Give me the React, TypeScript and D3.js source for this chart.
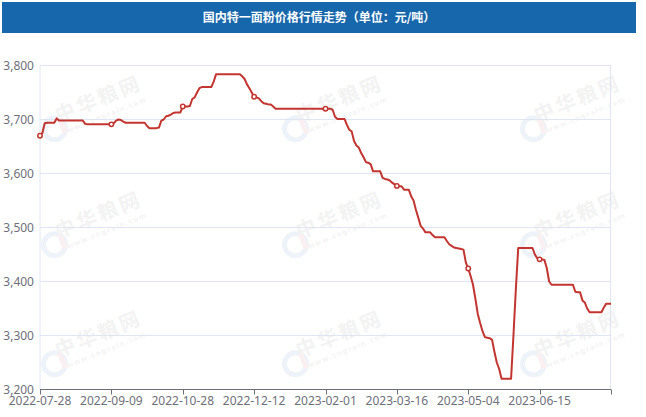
import React from 'react';
import * as d3 from 'd3';

// flour price, one value per category point (yuan / ton)
const prices = [
  3670, 3675, 3693, 3694, 3694, 3694, 3694, 3702, 3698, 3698,
  3698, 3698, 3698, 3698, 3698, 3698, 3698, 3698, 3698, 3692,
  3691, 3691, 3691, 3691, 3691, 3691, 3691, 3691, 3691, 3691,
  3691, 3693, 3698, 3700, 3699, 3696, 3694, 3694, 3694, 3694,
  3694, 3694, 3694, 3694, 3694, 3688, 3684, 3684, 3684, 3684,
  3685, 3698, 3700, 3706, 3707, 3709, 3712, 3713, 3713, 3713,
  3724, 3724, 3724, 3725, 3738, 3741, 3750, 3758, 3760, 3760,
  3760, 3760, 3760, 3770, 3784, 3784, 3784, 3784, 3784, 3784,
  3784, 3784, 3784, 3784, 3784, 3780, 3775, 3765, 3758, 3750,
  3742, 3741, 3739, 3734, 3730, 3729, 3728, 3728, 3724, 3720,
  3720, 3720, 3720, 3720, 3720, 3720, 3720, 3720, 3720, 3720,
  3720, 3720, 3720, 3720, 3720, 3720, 3720, 3720, 3720, 3720,
  3720, 3720, 3720, 3718, 3705, 3701, 3701, 3701, 3701, 3690,
  3681, 3678, 3660, 3652, 3648, 3638, 3630, 3621, 3620, 3617,
  3604, 3604, 3604, 3604, 3592, 3590, 3589, 3587, 3583, 3580,
  3577, 3577, 3576, 3570, 3570, 3570, 3558, 3550, 3533, 3518,
  3503, 3498, 3491, 3491, 3491, 3486, 3482, 3482, 3482, 3482,
  3482, 3475, 3469, 3466, 3463, 3462, 3461, 3460, 3459, 3435,
  3424, 3410, 3394, 3368, 3340, 3323, 3308, 3297, 3296, 3295,
  3292, 3270, 3250, 3238, 3220, 3220, 3220, 3220, 3220, 3300,
  3385, 3462, 3462, 3462, 3462, 3462, 3462, 3462, 3450, 3443,
  3441, 3441, 3440, 3425, 3400, 3394, 3394, 3394, 3394, 3394,
  3394, 3394, 3394, 3394, 3394, 3381, 3380, 3380, 3365, 3361,
  3350, 3343, 3343, 3343, 3343, 3343, 3343, 3352, 3359, 3359,
  3359,
];

const dateLabels = [
  '2022-07-28', '2022-09-09', '2022-10-28', '2022-12-12',
  '2023-02-01', '2023-03-16', '2023-05-04', '2023-06-15',
];
const labelEvery = 30;
const yTicks = [3200, 3300, 3400, 3500, 3600, 3700, 3800];

const W = 646;
const H = 417;
const left = 40;
const right = 611;
const top = 65.5;
const bottom = 389.5;

const red = '#c23531';
const axisGray = '#6e7079';
const gridColor = '#e0e6f1';
const font = '"Noto Sans", "Noto Sans CJK SC", sans-serif';

const wmX = [99, 340, 578];
const wmY = [100, 216, 335];

export default function App() {
  const x = d3.scaleLinear().domain([0, prices.length - 1]).range([left, right]);
  const y = d3.scaleLinear().domain([3200, 3800]).range([bottom, top]);
  const line = d3.line<number>().x((_, i) => x(i)).y((d) => y(d));
  const fmt = d3.format(',');

  const tickIdx = d3.range(0, prices.length, labelEvery);
  if (tickIdx[tickIdx.length - 1] !== prices.length - 1) tickIdx.push(prices.length - 1);
  // symbols only on labelled points
  const markIdx = dateLabels.map((_, k) => k * labelEvery);

  return (
    <div style={{ position: 'absolute', left: 0, top: 0 }}>
      <svg width={W} height={H} style={{ display: 'block', background: '#fff' }}>
        {/* title bar */}
        <rect x={2} y={2} width={634} height={31} fill="#1767ad" />
        <text x={319} y={22} textAnchor="middle" fill="#fff" fontSize={12} fontWeight="bold"
          fontFamily='"Noto Sans CJK SC", sans-serif'>
          国内特一面粉价格行情走势（单位：元/吨）
        </text>

        {/* watermarks */}
        {wmY.map((wy) =>
          wmX.map((wx) => (
            <g key={`${wx}-${wy}`} transform={`translate(${wx},${wy}) rotate(-22)`} opacity={0.3}>
              <circle cx={-52} cy={10} r={11} fill="none" stroke="#c9d9ee" strokeWidth={5} />
              <rect x={-46} y={2} width={5} height={16} fill="#f1cfd2" />
              <text x={0} y={6} textAnchor="middle" fontSize={20} fontWeight="bold" fill="#d8d8d8"
                fontFamily='"Noto Sans CJK SC", sans-serif' letterSpacing={3}>
                中华粮网
              </text>
              <text x={2} y={19} textAnchor="middle" fontSize={7} fontWeight="bold" fill="#d8d8d8"
                fontFamily={font} letterSpacing={1.5}>
                www.cngrain.com
              </text>
            </g>
          ))
        )}

        {/* grid */}
        {yTicks.filter((t) => t !== 3200).map((t) => (
          <line key={t} x1={left} x2={right} y1={y(t)} y2={y(t)} stroke={gridColor} strokeWidth={1} />
        ))}
        <line x1={left} x2={left} y1={top} y2={bottom} stroke={gridColor} />
        <line x1={right - 0.5} x2={right - 0.5} y1={top} y2={bottom} stroke={gridColor} />

        {/* y labels */}
        {yTicks.map((t) => (
          <text key={t} x={left - 6} y={y(t)} dy="0.35em" textAnchor="end" fontSize={12}
            fill={axisGray} fontFamily={font}>
            {fmt(t)}
          </text>
        ))}

        {/* x axis */}
        <line x1={left} x2={right} y1={bottom} y2={bottom} stroke={axisGray} strokeWidth={1} />
        {tickIdx.map((i) => (
          <line key={i} x1={Math.round(x(i)) + 0.5} x2={Math.round(x(i)) + 0.5} y1={bottom} y2={bottom + 5}
            stroke={axisGray} />
        ))}
        {dateLabels.map((d, k) => (
          <text key={d} x={x(k * labelEvery)} y={bottom + 15} textAnchor="middle" fontSize={12}
            fill={axisGray} fontFamily={font}>
            {d}
          </text>
        ))}

        {/* series */}
        <path d={line(prices) ?? ''} fill="none" stroke={red} strokeWidth={2} strokeLinejoin="round" />
        {markIdx.map((i) => (
          <circle key={i} cx={x(i)} cy={y(prices[i])} r={2.2} fill="#fff" stroke={red} strokeWidth={1.5} />
        ))}
      </svg>
    </div>
  );
}
